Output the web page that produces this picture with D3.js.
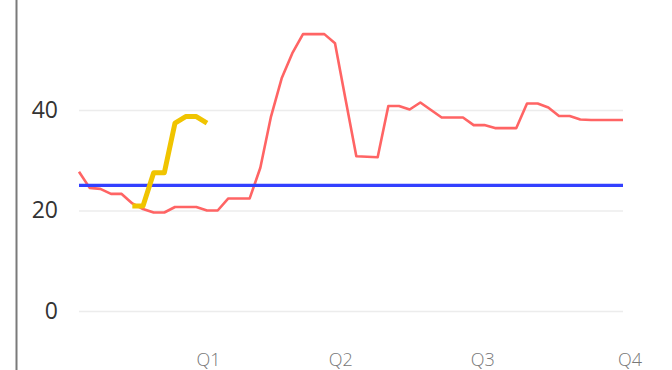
<!DOCTYPE html>
<html>
<head>
<meta charset="utf-8">
<script src="https://cdn.jsdelivr.net/npm/d3@7"></script>
<style>
  html, body { margin: 0; padding: 0; background: #fff; }
  svg { display: block; }
</style>
</head>
<body>
<svg id="chart" width="672" height="370"></svg>
<script>
// Weekly series (52 weeks)
const weeks = d3.range(52);
const actual = [
  27.7, 24.5, 24.3, 23.3, 23.3, 21.4, 20.3, 19.6, 19.6, 20.7,
  20.7, 20.7, 20.0, 20.0, 22.4, 22.4, 22.4, 28.5, 38.7, 46.3,
  51.3, 55.1, 55.1, 55.1, 53.3, 42.0, 30.8, 30.7, 30.6, 40.8,
  40.8, 40.1, 41.5, 40.0, 38.5, 38.5, 38.5, 37.0, 37.0, 36.4,
  36.4, 36.4, 41.3, 41.3, 40.5, 38.8, 38.8, 38.1, 38.0, 38.0,
  38.0, 38.0
];
// Short series covering weeks 5..12
const forecastStart = 5;
const forecast = [20.9, 20.9, 27.5, 27.5, 37.4, 38.7, 38.7, 37.4];
const targetValue = 25;

const yTicks = [0, 20, 40];
const quarterLabels = ["Q1", "Q2", "Q3", "Q4"];
const quarterTicks = [12.1, 24.5, 37.8, 51.6];

const svg = d3.select("#chart");
const left = 79, right = 623, bottomY = 311;

const x = d3.scaleLinear().domain([0, 51]).range([left, right]);
const y = d3.scaleLinear().domain([0, 40]).range([bottomY, 110]);

// left frame rule
svg.append("line")
  .attr("x1", 16.5).attr("x2", 16.5)
  .attr("y1", 0).attr("y2", 370)
  .attr("stroke", "#7a7a7a").attr("stroke-width", 2);

// gridlines
const grid = svg.append("g")
  .attr("transform", `translate(${left},0)`)
  .call(d3.axisLeft(y).tickValues(yTicks).tickSize(-(right - left)).tickFormat(""));
grid.select(".domain").remove();
grid.selectAll("line").attr("stroke", "#ececec").attr("stroke-width", 1.5);

// y-axis labels
const yAxis = svg.append("g")
  .attr("transform", `translate(${left},0)`)
  .call(d3.axisLeft(y).tickValues(yTicks).tickSize(0).tickPadding(21));
yAxis.select(".domain").remove();
yAxis.selectAll("text")
  .attr("font-family", "'Open Sans', 'Noto Sans', sans-serif")
  .attr("font-size", 23)
  .attr("fill", "#333");

// x-axis labels
const xAxis = svg.append("g")
  .attr("transform", `translate(0,${bottomY})`)
  .call(d3.axisBottom(x).tickValues(quarterTicks)
    .tickFormat((d, i) => quarterLabels[i]).tickSize(0).tickPadding(0));
xAxis.select(".domain").remove();
xAxis.selectAll("text")
  .attr("dy", null)
  .attr("y", 55)
  .attr("font-family", "'Open Sans', 'Noto Sans', sans-serif")
  .attr("font-weight", 300)
  .attr("font-size", 18)
  .attr("fill", "#777");

const line = d3.line().x(d => x(d[0])).y(d => y(d[1]));

// actual (red)
svg.append("path")
  .datum(weeks.map(i => [i, actual[i]]))
  .attr("d", line)
  .attr("fill", "none")
  .attr("stroke", "#ff6464")
  .attr("stroke-width", 2.6)
  .attr("stroke-linejoin", "round");

// target (blue)
svg.append("path")
  .datum([[0, targetValue], [51, targetValue]])
  .attr("d", line)
  .attr("fill", "none")
  .attr("stroke", "#3340ff")
  .attr("stroke-width", 3.2);

// short series (yellow)
svg.append("path")
  .datum(forecast.map((v, i) => [forecastStart + i, v]))
  .attr("d", line)
  .attr("fill", "none")
  .attr("stroke", "#f0c400")
  .attr("stroke-width", 5)
  .attr("stroke-linejoin", "round");
</script>
</body>
</html>
